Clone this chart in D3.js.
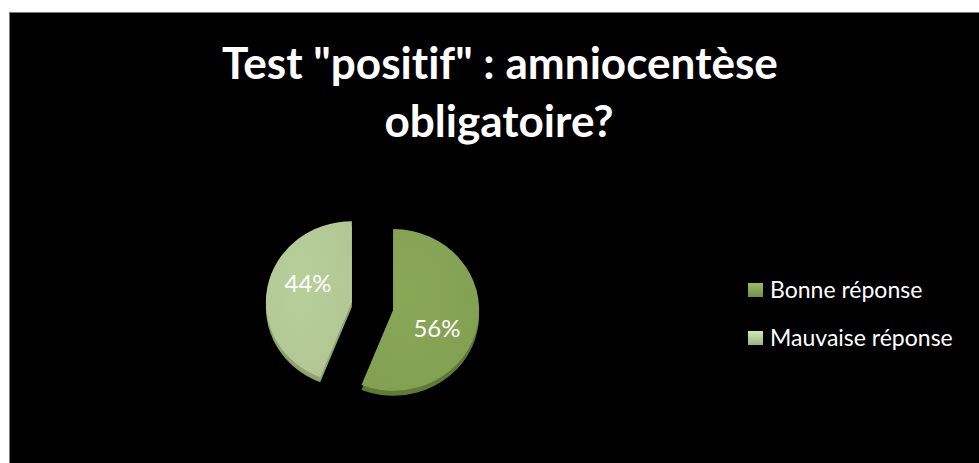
<!DOCTYPE html>
<html><head><meta charset="utf-8">
<script src="https://cdn.jsdelivr.net/npm/d3@7"></script>
<style>html,body{margin:0;padding:0;background:#fff;}svg{display:block;}text{font-variant-ligatures:none;font-feature-settings:"liga" 0;}</style>
</head><body>
<script>
const title = ['Test "positif" : amniocentèse', 'obligatoire?'];
const categories = ['Bonne réponse', 'Mauvaise réponse'];
const values = [56, 44];
const labels = ['56%', '44%'];
const colors = ['#86a454', '#b5cb97'];
const rimColors = ['#5f7a33', '#8ea46c'];

const W = 979, H = 463;
const FONT = 'Lato, "Open Sans", sans-serif';
const svg = d3.select('body').append('svg').attr('width', W).attr('height', H);
const defs = svg.append('defs');

svg.append('rect').attr('x', 9).attr('y', 12).attr('width', W - 9).attr('height', H - 12).attr('fill', '#7a7a7a');
svg.append('rect').attr('x', 10).attr('y', 13).attr('width', W - 10).attr('height', H - 13).attr('fill', '#000');

// Title
const t = svg.append('g').attr('font-family', FONT).attr('font-weight', 'bold').attr('fill', '#fff').attr('text-anchor', 'middle');
const t1 = t.append('text').attr('x', 500).attr('y', 79).attr('font-size', 44).text(title[0]);
const w1 = t1.node().getComputedTextLength();
const fs = 44 * 556 / w1;
t1.attr('font-size', fs);
t.append('text').attr('x', 499).attr('y', 137).attr('font-size', fs).text(title[1]);

// Pie
const cx = 372.5, cy = 306, r = 86, sy = 0.94, explode = 21, rim = 5;
const pie = d3.pie().sort(null).value(d => d)(values);
const arc = d3.arc().innerRadius(0).outerRadius(r);

colors.forEach((c, i) => {
  const g = defs.append('radialGradient').attr('id', 'g' + i).attr('cx', '40%').attr('cy', '40%').attr('r', '75%');
  g.append('stop').attr('offset', '0%').attr('stop-color', d3.color(c).brighter(0.06));
  g.append('stop').attr('offset', '100%').attr('stop-color', d3.color(c).darker(0.08));
});

const pg = svg.append('g');
pie.forEach((d, i) => {
  const mid = (d.startAngle + d.endAngle) / 2;
  const ox = cx + Math.sin(mid) * explode;
  const oy = cy - Math.cos(mid) * explode;
  const sg = pg.append('g').attr('transform', `translate(${ox},${oy})`);
  sg.append('path').attr('d', arc(d)).attr('fill', rimColors[i])
    .attr('transform', `translate(0,${rim}) scale(1,${sy})`);
  sg.append('path').attr('d', arc(d)).attr('fill', `url(#g${i})`)
    .attr('transform', `scale(1,${sy})`);
  const la = mid + 0.23, lr = 48;
  sg.append('text').attr('x', Math.sin(la) * lr).attr('y', -Math.cos(la) * lr * sy)
    .attr('dy', '0.36em').attr('text-anchor', 'middle')
    .attr('font-family', FONT).attr('font-size', 24)
    .attr('fill', '#fff').text(labels[i]);
});

// Legend
const lg = svg.append('g').attr('font-family', FONT).attr('fill', '#fff');
const legTexts = [];
categories.forEach((c, i) => {
  const y = 290 + i * 48;
  const gid = 'lg' + i;
  const g = defs.append('linearGradient').attr('id', gid).attr('x1', 0).attr('y1', 0).attr('x2', 0).attr('y2', 1);
  g.append('stop').attr('offset', '0%').attr('stop-color', d3.color(colors[i]).brighter(0.4));
  g.append('stop').attr('offset', '100%').attr('stop-color', d3.color(colors[i]).darker(0.4));
  lg.append('rect').attr('x', 748).attr('y', y - 7).attr('width', 15).attr('height', 14).attr('fill', `url(#${gid})`);
  legTexts.push(lg.append('text').attr('x', 770).attr('y', y).attr('dy', '0.36em').attr('font-size', 20).text(c));
});
const lw = legTexts[1].node().getComputedTextLength();
const lfs = Math.min(23, 20 * 192 / lw);
legTexts.forEach(tx => tx.attr('font-size', lfs));
</script>
</body></html>
